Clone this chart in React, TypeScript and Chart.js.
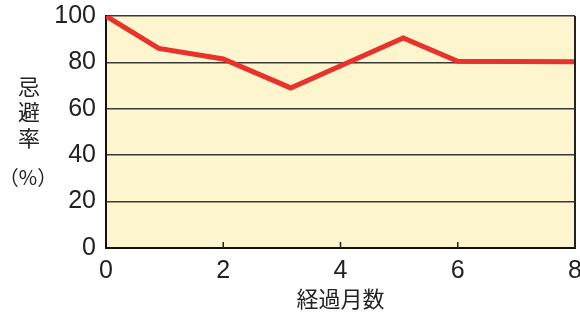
import React, { useEffect, useRef } from "react";
import { Chart, registerables } from "chart.js";

Chart.register(...registerables);

const monthsElapsed = [0, 0.9, 2, 3.15, 5.07, 6, 8];
const repellencyRate = [100, 86, 81.5, 69, 90.5, 80.5, 80.3];
const xTicks = [0, 2, 4, 6, 8];
const yTicks = [0, 20, 40, 60, 80, 100];
const xTitle = "経過月数";
const yTitleChars = ["忌", "避", "率"];
const yTitleUnit = "（%）";

const framePlugin = {
  id: "frame",
  beforeDraw(chart: any) {
    const { ctx, chartArea } = chart;
    ctx.save();
    ctx.fillStyle = "#fdf5cd";
    ctx.fillRect(chartArea.left, chartArea.top, chartArea.right - chartArea.left, chartArea.bottom - chartArea.top);
    ctx.restore();
  },
  afterDraw(chart: any) {
    const { ctx, chartArea } = chart;
    const xs = chart.scales.x;
    ctx.save();
    ctx.strokeStyle = "#222";
    ctx.lineWidth = 2;
    ctx.beginPath();
    ctx.moveTo(chartArea.right, chartArea.top);
    ctx.lineTo(chartArea.right, chartArea.bottom);
    ctx.stroke();
    ctx.lineWidth = 1.5;
    xTicks.slice(1, -1).forEach((v) => {
      const px = xs.getPixelForValue(v);
      ctx.beginPath();
      ctx.moveTo(px, chartArea.bottom);
      ctx.lineTo(px, chartArea.bottom - 6);
      ctx.stroke();
    });
    ctx.fillStyle = "#222";
    ctx.textAlign = "center";
    ctx.textBaseline = "middle";
    ctx.font = '22px "Noto Sans CJK JP"';
    const cy = [87, 112, 138];
    yTitleChars.forEach((c, i) => ctx.fillText(c, 29, cy[i]));
    ctx.font = '20px "Noto Sans CJK JP"';
    ctx.fillText(yTitleUnit, 28, 177);
    ctx.restore();
  },
};

const zeroPad = (s: any) => {
  s.paddingLeft = 0;
  s.paddingRight = 0;
  s.paddingTop = 0;
  s.paddingBottom = 0;
};

export default function App() {
  const ref = useRef<HTMLCanvasElement | null>(null);
  useEffect(() => {
    document.body.style.margin = "0";
    const canvas = ref.current!;
    const chart = new Chart(canvas, {
      type: "line",
      data: {
        datasets: [
          {
            data: monthsElapsed.map((x, i) => ({ x, y: repellencyRate[i] })),
            borderColor: "#e8322b",
            borderWidth: 5,
            pointRadius: 0,
            tension: 0,
            fill: false,
          },
        ],
      },
      options: {
        animation: false,
        responsive: false,
        maintainAspectRatio: false,
        layout: { padding: { top: 16, right: 5, left: 0, bottom: 0 } },
        plugins: { legend: { display: false }, tooltip: { enabled: false } },
        scales: {
          x: {
            type: "linear",
            min: 0,
            max: 8,
            afterBuildTicks: (s: any) => {
              s.ticks = xTicks.map((v) => ({ value: v }));
            },
            afterFit: (s: any) => {
              s.height = 68;
              zeroPad(s);
            },
            grid: { display: false, drawTicks: false },
            border: { display: true, color: "#111", width: 2 },
            ticks: {
              padding: 8,
              color: "#222",
              font: { family: "Liberation Sans", size: 25 },
              maxRotation: 0,
            },
            title: {
              display: true,
              text: xTitle,
              color: "#222",
              font: { family: "Noto Sans CJK JP", size: 22 },
              padding: { top: 0, bottom: 4 },
            },
          },
          y: {
            min: 0,
            max: 100,
            afterBuildTicks: (s: any) => {
              s.ticks = yTicks.map((v) => ({ value: v }));
            },
            afterFit: (s: any) => {
              s.width = 106;
              zeroPad(s);
            },
            grid: { color: "#3a3a3a", lineWidth: 1.5, drawTicks: false },
            border: { display: true, color: "#111", width: 2 },
            ticks: {
              padding: 10,
              color: "#222",
              font: { family: "Liberation Sans", size: 25 },
            },
          },
        },
      },
      plugins: [framePlugin],
    });
    return () => chart.destroy();
  }, []);
  return (
    <div style={{ width: 580, height: 316, background: "#fff" }}>
      <canvas ref={ref} width={580} height={316} style={{ display: "block" }} />
    </div>
  );
}
